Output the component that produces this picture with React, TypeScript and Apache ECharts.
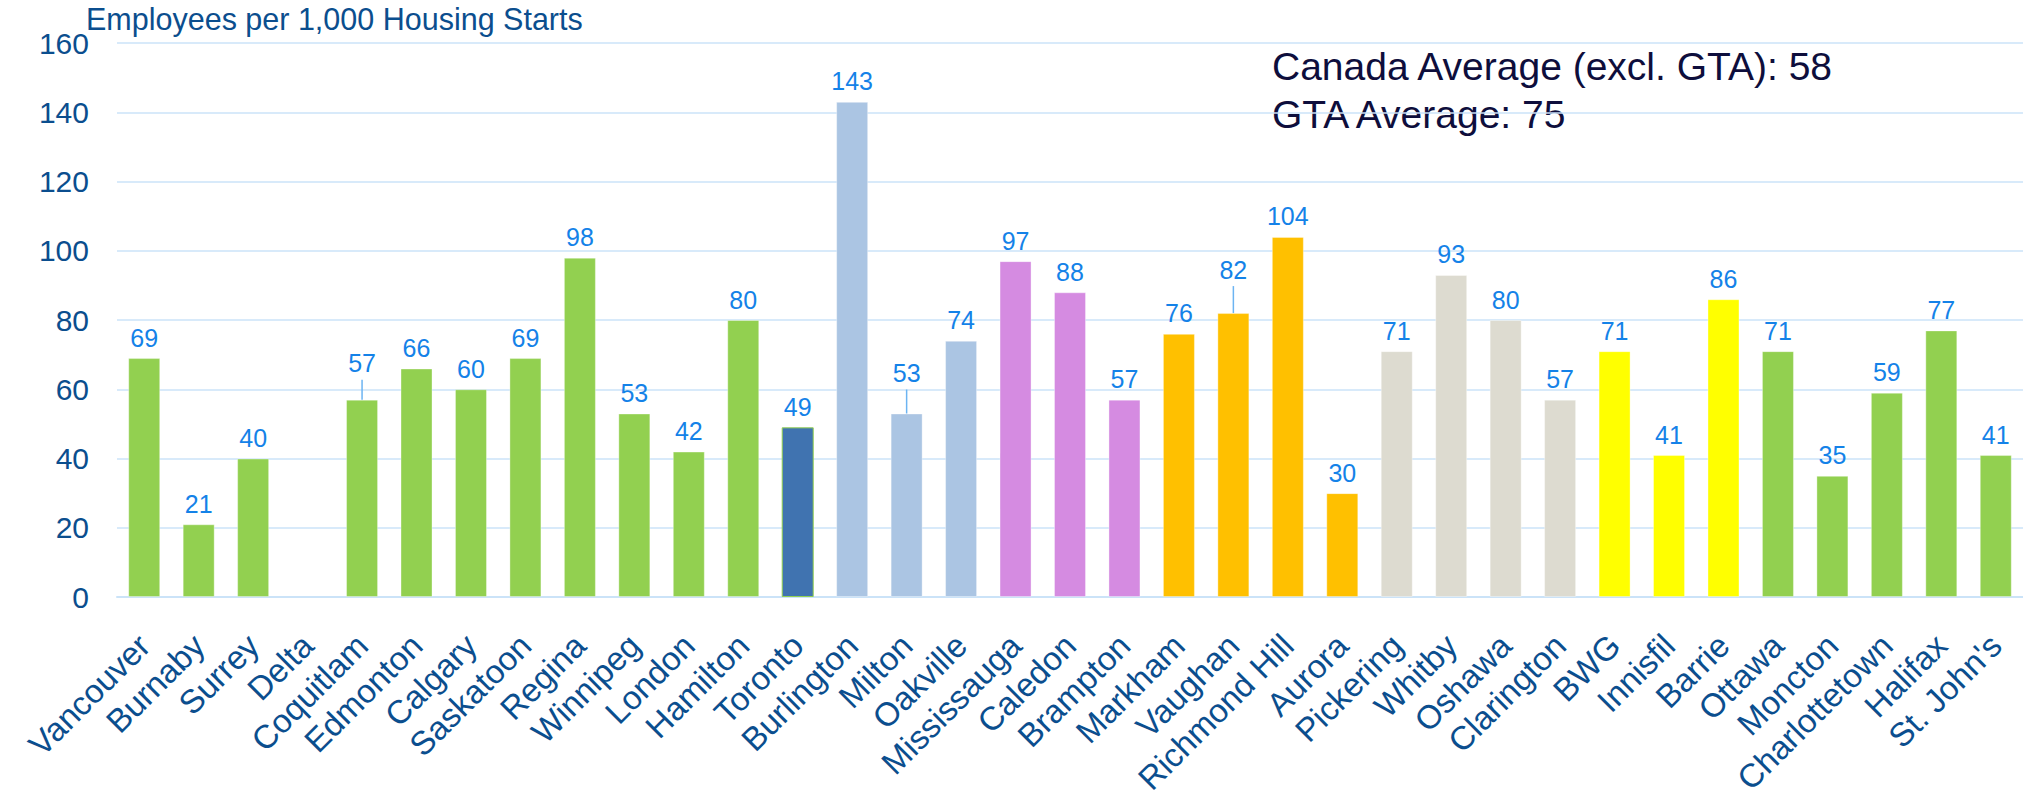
import React, { useEffect, useRef } from "react";
import * as echarts from "echarts";

const categories = [
  "Vancouver", "Burnaby", "Surrey", "Delta", "Coquitlam", "Edmonton", "Calgary",
  "Saskatoon", "Regina", "Winnipeg", "London", "Hamilton", "Toronto", "Burlington",
  "Milton", "Oakville", "Mississauga", "Caledon", "Brampton", "Markham", "Vaughan",
  "Richmond Hill", "Aurora", "Pickering", "Whitby", "Oshawa", "Clarington", "BWG",
  "Innisfil", "Barrie", "Ottawa", "Moncton", "Charlottetown", "Halifax", "St. John's",
];

const values: (number | null)[] = [
  69, 21, 40, null, 57, 66, 60,
  69, 98, 53, 42, 80, 49, 143,
  53, 74, 97, 88, 57, 76, 82,
  104, 30, 71, 93, 80, 57, 71,
  41, 86, 71, 35, 59, 77, 41,
];

const regions = [
  "other", "other", "other", "other", "other", "other", "other",
  "other", "other", "other", "other", "other", "toronto", "halton",
  "halton", "halton", "peel", "peel", "peel", "york", "york",
  "york", "york", "durham", "durham", "durham", "durham", "simcoe",
  "simcoe", "simcoe", "other", "other", "other", "other", "other",
];

const regionColors: Record<string, string> = {
  other: "#92D050",
  toronto: "#4073B0",
  halton: "#ABC5E3",
  peel: "#D58BE1",
  york: "#FFC000",
  durham: "#DDDBD0",
  simcoe: "#FFFF00",
};

const chartTitle = "Employees per 1,000 Housing Starts";
const notes = ["Canada Average (excl. GTA): 58", "GTA Average: 75"];
const yMin = 0;
const yMax = 160;
const yInterval = 20;

// labels that were lifted above their bars (px), drawn with a leader line
const labelLift: Record<string, number> = { Coquitlam: 16, Milton: 20, Vaughan: 23 };

const FONT = "Arial, 'Liberation Sans', Helvetica, sans-serif";
const AXIS_TEXT = "#0B4E8E";
const DATA_LABEL = "#1482E8";
const GRID_LINE = "#CBE3F8";

export default function App() {
  const ref = useRef<HTMLDivElement>(null);

  useEffect(() => {
    if (!ref.current) return;
    const chart = echarts.init(ref.current, undefined, { renderer: "svg" });

    const barData = values.map((v, i) => {
      const lift = labelLift[categories[i]] || 0;
      const item: any = {
        value: v,
        itemStyle: {
          color: regionColors[regions[i]],
          borderColor: regions[i] === "toronto" ? "#92D050" : "rgba(255,255,255,0.35)",
          borderWidth: 1,
        },
      };
      if (lift) item.label = { distance: 8 + lift };
      return item;
    });

    const leaderData = categories
      .map((c, i) => (labelLift[c] && values[i] != null ? [i, values[i], labelLift[c]] : null))
      .filter((d) => d !== null);

    chart.setOption({
      animation: false,
      textStyle: { fontFamily: FONT },
      grid: {
        left: 117,
        right: 0,
        top: 43,
        bottom: 200,
        containLabel: false,
        outerBoundsMode: "none",
      },
      graphic: [
        {
          type: "text",
          x: 86,
          y: 19,
          style: {
            text: chartTitle,
            fontSize: 30.5,
            fontFamily: FONT,
            fill: AXIS_TEXT,
            verticalAlign: "middle",
          },
        },
        {
          type: "text",
          x: 1272,
          y: 66,
          style: {
            text: notes[0],
            fontSize: 39,
            fontFamily: FONT,
            fill: "#0E0E3C",
            verticalAlign: "middle",
          },
        },
        {
          type: "text",
          x: 1272,
          y: 114,
          style: {
            text: notes[1],
            fontSize: 39,
            fontFamily: FONT,
            fill: "#0E0E3C",
            verticalAlign: "middle",
          },
        },
      ],
      xAxis: {
        type: "category",
        data: categories,
        axisTick: { show: false },
        axisLine: { show: true, lineStyle: { color: GRID_LINE, width: 2 } },
        axisLabel: {
          interval: 0,
          rotate: 45,
          fontSize: 33,
          color: AXIS_TEXT,
          fontFamily: FONT,
          margin: 43,
        },
      },
      yAxis: {
        type: "value",
        min: yMin,
        max: yMax,
        interval: yInterval,
        axisLine: { show: false },
        axisTick: { show: false },
        splitLine: { show: true, lineStyle: { color: GRID_LINE, width: 1.5 } },
        axisLabel: { fontSize: 30, color: AXIS_TEXT, fontFamily: FONT, margin: 28 },
      },
      series: [
        {
          type: "bar",
          data: barData,
          barWidth: 32,
          label: {
            show: true,
            position: "top",
            distance: 8,
            fontSize: 25,
            color: DATA_LABEL,
            fontFamily: FONT,
          },
        },
        {
          type: "custom",
          data: leaderData,
          encode: { x: 0, y: 1 },
          silent: true,
          z: 5,
          renderItem: (params: any, api: any) => {
            const idx = api.value(0);
            const v = api.value(1);
            const lift = api.value(2);
            const p = api.coord([idx, v]);
            return {
              type: "line",
              shape: { x1: p[0], y1: p[1], x2: p[0], y2: p[1] - (lift + 4) },
              style: { stroke: "#6CB4F2", lineWidth: 1.5 },
            };
          },
        },
      ],
    });

    return () => chart.dispose();
  }, []);

  return (
    <div
      ref={ref}
      style={{ position: "absolute", left: 0, top: 0, width: 2023, height: 797, background: "#fff" }}
    />
  );
}
